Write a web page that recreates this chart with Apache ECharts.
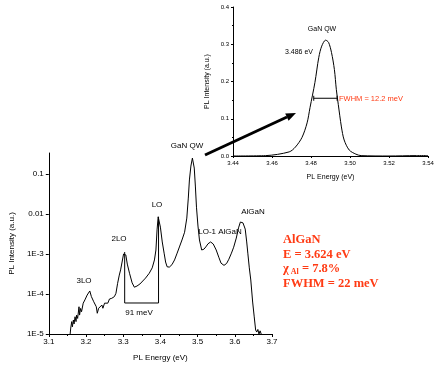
<!DOCTYPE html>
<html>
<head>
<meta charset="utf-8">
<script src="https://cdn.jsdelivr.net/npm/echarts@6/dist/echarts.min.js"></script>
<style>html,body{margin:0;padding:0;background:#fff}#c{width:441px;height:367px}</style>
</head>
<body>
<div id="c"></div>
<script>
// Main spectrum: photon energy (eV) and PL intensity (a.u., log scale)
const mainEnergy = [3.1574,3.159,3.1616,3.1634,3.1661,3.1679,3.1706,3.1732,3.1748,3.1775,3.1812,3.1827,3.1854,3.188,3.1925,3.197,3.2031,3.2102,3.2145,3.2208,3.2277,3.2303,3.234,3.2383,3.2427,3.2454,3.2499,3.2541,3.2586,3.2631,3.2692,3.2763,3.2805,3.285,3.2895,3.293,3.297,3.301,3.304,3.307,3.311,3.317,3.324,3.33,3.337,3.345,3.36,3.37,3.378,3.384,3.388,3.391,3.394,3.397,3.4,3.405,3.41,3.414,3.418,3.424,3.431,3.438,3.445,3.452,3.458,3.465,3.471,3.475,3.478,3.482,3.486,3.488,3.491,3.494,3.497,3.501,3.505,3.511,3.517,3.522,3.528,3.535,3.542,3.55,3.557,3.563,3.571,3.578,3.584,3.591,3.597,3.604,3.61,3.615,3.618,3.622,3.628,3.632,3.635,3.639,3.643,3.648,3.652,3.656,3.659,3.662,3.665,3.668,3.671];
const mainIntensity = [1.0e-5,1.41e-5,2.04e-5,1.51e-5,2.24e-5,1.78e-5,2.7e-5,2.04e-5,2.97e-5,2.45e-5,4.8e-5,2.97e-5,4.35e-5,3.6e-5,5.9e-5,7.1e-5,9.4e-5,1.19e-4,8.6e-5,6.4e-5,4.8e-5,3.3e-5,4.4e-5,4.0e-5,5.3e-5,4.4e-5,5.9e-5,6.4e-5,5.9e-5,7.5e-5,7.8e-5,8.6e-5,1.04e-4,1.85e-4,2.97e-4,4.0e-4,6.3e-4,1.0e-3,1.12e-3,9.5e-4,5.6e-4,3.3e-4,1.9e-4,1.48e-4,1.58e-4,1.78e-4,2.5e-4,3.3e-4,4.5e-4,7.1e-4,1.26e-3,4.0e-3,8.5e-3,7.6e-3,4.7e-3,2.0e-3,1.05e-3,6.3e-4,4.8e-4,4.7e-4,5.4e-4,7.1e-4,1.05e-3,1.58e-3,2.24e-3,3.5e-3,7.9e-3,0.025,0.071,0.158,0.25,0.28,0.141,0.05,0.0148,5.0e-3,2.24e-3,1.26e-3,1.32e-3,1.5e-3,1.8e-3,2.0e-3,1.78e-3,1.26e-3,8.3e-4,5.9e-4,5.2e-4,5.8e-4,7.4e-4,1.05e-3,1.48e-3,2.5e-3,4.5e-3,6.3e-3,6.8e-3,6.0e-3,4.2e-3,2.0e-3,1.05e-3,4.5e-4,2.24e-4,6.3e-5,2.8e-5,1.26e-5,1.12e-5,1.3e-5,1.0e-5,1.2e-5,1.0e-5];
// 2LO -> LO spacing bracket (91 meV)
const bracketEnergy = [3.304,3.304,3.395,3.395];
const bracketIntensity = [1.12e-3,5.96e-5,5.96e-5,8.5e-3];
// Inset: GaN QW peak (linear)
const insetEnergy = [3.44,3.4567,3.4688,3.472,3.4754,3.478,3.4795,3.482,3.484,3.4855,3.4875,3.489,3.4905,3.492,3.493,3.494,3.4956,3.497,3.4996,3.503,3.5057,3.52,3.534,3.54];
const insetIntensity = [0,0.001,0.011,0.024,0.05,0.089,0.13,0.197,0.265,0.295,0.311,0.305,0.278,0.232,0.178,0.138,0.078,0.043,0.016,0.005,0.001,0,0.001,0.001];
const fwhmEnergy = [3.4814,3.4934];
const fwhmIntensity = [0.155,0.155];
// Axis ticks
const mainXTicks = {min:3.1,max:3.7,interval:0.1};
const mainYTicks = {min:1e-5,max:0.335};
const insetXTicks = {min:3.44,max:3.54,interval:0.02};
const insetYTicks = {min:0,max:0.4,interval:0.1};

const zip = (a,b)=>a.map((v,i)=>[v,b[i]]);
const F = 'Liberation Sans, Arial, sans-serif';
const RED = '#ff3b14';
const axLine = {show:true,lineStyle:{color:'#000',width:1}};

const chart = echarts.init(document.getElementById('c'),null,{renderer:'canvas'});
function yLab(v){
  const e = Math.round(Math.log10(v));
  if (e === -1) return '0.1';
  if (e === -2) return '0.01';
  return '1E' + e;
}
chart.setOption({
  animation:false,
  backgroundColor:'#fff',
  grid:[
    {left:45,right:169,top:153,bottom:33},
    {left:233,right:13,top:7,bottom:211}
  ],
  xAxis:[
    {gridIndex:0,type:'value',min:mainXTicks.min,max:mainXTicks.max,interval:mainXTicks.interval,
     axisLine:axLine,splitLine:{show:false},
     axisTick:{show:true,length:3,lineStyle:{color:'#000'}},
     minorTick:{show:true,splitNumber:2,length:2,lineStyle:{color:'#000'}},
     axisLabel:{fontFamily:F,fontSize:8,color:'#000',margin:4,formatter:v=>v.toFixed(1)},
     name:'PL Energy (eV)',nameLocation:'middle',nameGap:20,
     nameTextStyle:{fontFamily:F,fontSize:8,color:'#000'}},
    {gridIndex:1,type:'value',min:insetXTicks.min,max:insetXTicks.max,interval:insetXTicks.interval,
     axisLine:axLine,splitLine:{show:false},
     axisTick:{show:true,length:2,lineStyle:{color:'#000'}},
     minorTick:{show:true,splitNumber:2,length:1,lineStyle:{color:'#000'}},
     axisLabel:{fontFamily:F,fontSize:6,color:'#000',margin:4,formatter:v=>v.toFixed(2)},
     name:'PL Energy (eV)',nameLocation:'middle',nameGap:18,
     nameTextStyle:{fontFamily:F,fontSize:7,color:'#000'}}
  ],
  yAxis:[
    {gridIndex:0,type:'log',logBase:10,min:mainYTicks.min,max:mainYTicks.max,
     axisLine:axLine,splitLine:{show:false},
     axisTick:{show:true,length:3,lineStyle:{color:'#000'}},
     axisLabel:{fontFamily:F,fontSize:8,color:'#000',margin:5,showMaxLabel:false,formatter:yLab},
     name:'PL Intensity (a.u.)',nameLocation:'middle',nameGap:27,
     nameTextStyle:{fontFamily:F,fontSize:8,color:'#000'}},
    {gridIndex:1,type:'value',min:insetYTicks.min,max:insetYTicks.max,interval:insetYTicks.interval,
     axisLine:axLine,splitLine:{show:false},
     axisTick:{show:true,length:2,lineStyle:{color:'#000'}},
     minorTick:{show:true,splitNumber:2,length:1,lineStyle:{color:'#000'}},
     axisLabel:{fontFamily:F,fontSize:6,color:'#000',margin:4,formatter:v=>v.toFixed(1)},
     name:'PL Intensity (a.u.)',nameLocation:'middle',nameGap:22,
     nameTextStyle:{fontFamily:F,fontSize:7,color:'#000'}}
  ],
  series:[
    {type:'line',xAxisIndex:0,yAxisIndex:0,data:zip(mainEnergy,mainIntensity),
     showSymbol:false,lineStyle:{color:'#000',width:1},silent:true},
    {type:'line',xAxisIndex:0,yAxisIndex:0,data:zip(bracketEnergy,bracketIntensity),
     showSymbol:false,lineStyle:{color:'#000',width:1},silent:true},
    {type:'line',xAxisIndex:1,yAxisIndex:1,data:zip(insetEnergy,insetIntensity),
     showSymbol:false,smooth:0.3,lineStyle:{color:'#000',width:1},silent:true},
    {type:'line',xAxisIndex:1,yAxisIndex:1,data:zip(fwhmEnergy,fwhmIntensity),
     symbol:'rect',symbolSize:[1,5],showSymbol:true,itemStyle:{color:'#000'},
     lineStyle:{color:'#000',width:1},silent:true}
  ],
  graphic:[
    // peak labels (main)
    ...[['3LO',84,281],['2LO',119,239],['LO',157,205],['GaN QW',187,146],['LO-1 AlGaN',220,232],['AlGaN',253,212],['91 meV',139,313]]
      .map(([t,x,y])=>({type:'text',x:x,y:y,style:{text:t,fontFamily:F,fontSize:8,fill:'#000',align:'center',verticalAlign:'middle'}})),
    // inset labels
    {type:'text',x:322,y:29,style:{text:'GaN QW',fontFamily:F,fontSize:7,fill:'#000',align:'center',verticalAlign:'middle'}},
    {type:'text',x:299,y:52,style:{text:'3.486 eV',fontFamily:F,fontSize:7,fill:'#000',align:'center',verticalAlign:'middle'}},
    {type:'text',x:339,y:99,style:{text:'FWHM = 12.2 meV',fontFamily:F,fontSize:7.5,fill:RED,align:'left',verticalAlign:'middle'}},
    // arrow
    {type:'polyline',shape:{points:[[205,155],[287,117]]},style:{stroke:'#000',lineWidth:3}},
    {type:'polygon',shape:{points:[[296,113],[288.6,120.8],[285.2,113.6]]},style:{fill:'#000'}},
    // red summary block
    {type:'text',x:283,y:240,style:{text:'AlGaN',fontFamily:'Liberation Serif, Times New Roman, serif',fontWeight:'bold',fontSize:12.5,fill:RED,verticalAlign:'middle'}},
    {type:'text',x:283,y:255,style:{text:'E = 3.624 eV',fontFamily:'Liberation Serif, Times New Roman, serif',fontWeight:'bold',fontSize:12.5,fill:RED,verticalAlign:'middle'}},
    {type:'text',x:283,y:269,style:{text:'{a|χ}{s| Al}{a| = 7.8%}',verticalAlign:'middle',
      rich:{a:{fontFamily:'Liberation Serif, Times New Roman, serif',fontWeight:'bold',fontSize:12.5,fill:RED},
            s:{fontFamily:'Liberation Serif, Times New Roman, serif',fontWeight:'bold',fontSize:8,fill:RED,padding:[5,0,0,0]}}}},
    {type:'text',x:283,y:284,style:{text:'FWHM = 22 meV',fontFamily:'Liberation Serif, Times New Roman, serif',fontWeight:'bold',fontSize:12.5,fill:RED,verticalAlign:'middle'}}
  ]
});
</script>
</body>
</html>
